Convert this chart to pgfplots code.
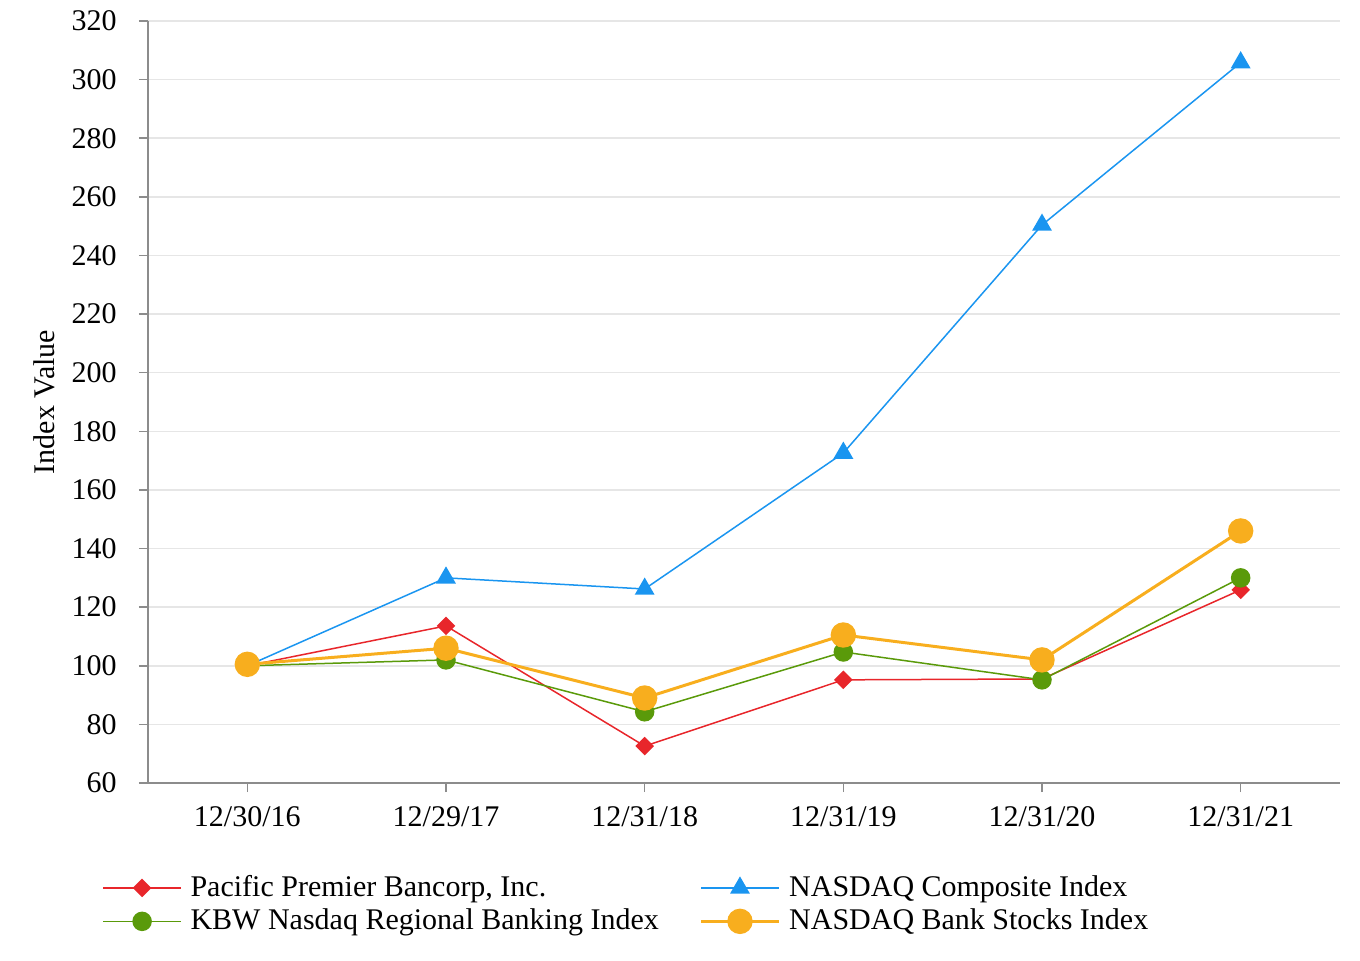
\documentclass[border=0pt]{standalone}
\usepackage{fontspec}
\setmainfont{Liberation Serif}
\usepackage{pgfplots}
\pgfplotsset{compat=1.18}
\definecolor{cred}{HTML}{E8262B}
\definecolor{cblue}{HTML}{1A95F0}
\definecolor{cgreen}{HTML}{5A9A0A}
\definecolor{corange}{HTML}{F8AE1E}
\definecolor{cgrid}{HTML}{E6E6E6}
\definecolor{caxis}{HTML}{8C8C8C}
\begin{document}
\fontsize{15}{17}\selectfont
\begin{tikzpicture}
\path[use as bounding box] (-74pt,-88.5pt) rectangle (606pt,391.5pt);
\begin{axis}[
  at={(0pt,0pt)}, anchor=south west,
  scale only axis, width=596pt, height=381pt,
  xmin=-0.5, xmax=5.5, ymin=60, ymax=320,
  xtick={0,1,2,3,4,5},
  xticklabels={12/30/16,12/29/17,12/31/18,12/31/19,12/31/20,12/31/21},
  ytick={60,80,...,320},
  axis x line*=bottom, axis y line*=left,
  axis line style={caxis, line width=0.8pt, -},
  tick style={caxis, line width=0.8pt},
  tick align=outside, major tick length=4.5pt,
  ymajorgrids, grid style={cgrid, line width=0.8pt},
  x tick label style={font=\fontsize{15}{17}\selectfont, yshift=-2pt},
  y tick label style={font=\fontsize{15}{17}\selectfont, xshift=-6pt},
  /pgf/number format/assume math mode=true,
  ylabel={Index Value},
  ylabel style={font=\fontsize{15}{17}\selectfont},
  every axis y label/.style={at={(-52pt,190.5pt)}, rotate=90, anchor=center},
  legend columns=2,
  legend style={draw=none, fill=none, at={(-0.0434,-0.1595)}, anchor=west,
    font=\fontsize{15}{17}\selectfont, row sep=0pt,
    /tikz/every even column/.append style={column sep=18.5pt},
    /tikz/every odd column/.append style={column sep=2.5pt}},
  legend cell align=left,
  legend image code/.code={
    \draw[#1, mark=none] (0cm,0cm) -- (1.36cm,0cm);
    \draw[#1, only marks] plot coordinates {(0.68cm,0cm)};
  },
  clip=false,
]
\addplot[cred, line width=0.75pt, mark=square*, mark size=2.9pt, mark options={solid, fill=cred, rotate=45}]
  coordinates {(0,100) (1,113.6) (2,72.6) (3,95.2) (4,95.5) (5,125.9)};
\addlegendentry{Pacific Premier Bancorp, Inc.}
\addplot[cblue, line width=0.75pt, mark=triangle*, mark size=5pt, mark options={solid, fill=cblue}]
  coordinates {(0,100) (1,130) (2,126.2) (3,172.6) (4,250.4) (5,305.8)};
\addlegendentry{NASDAQ Composite Index}
\addplot[cgreen, line width=0.75pt, mark=*, mark size=4.5pt, mark options={solid, fill=cgreen}]
  coordinates {(0,100) (1,102) (2,84.3) (3,104.7) (4,95.2) (5,130)};
\addlegendentry{KBW Nasdaq Regional Banking Index}
\addplot[corange, line width=1.5pt, mark=*, mark size=5.6pt, mark options={solid, fill=corange}]
  coordinates {(0,100.5) (1,106) (2,89) (3,110.5) (4,102) (5,146)};
\addlegendentry{NASDAQ Bank Stocks Index}
\end{axis}
\end{tikzpicture}
\end{document}
